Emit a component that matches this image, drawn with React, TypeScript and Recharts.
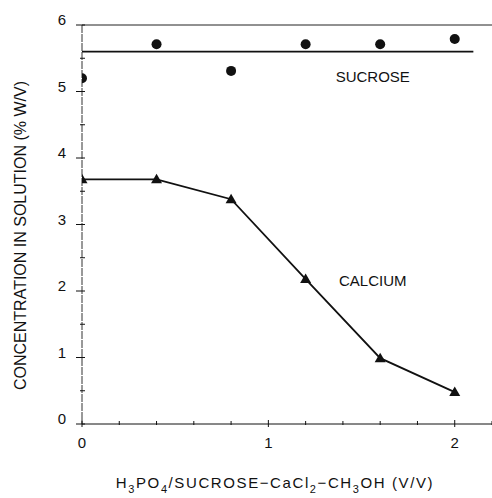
import React from 'react';
import {
  ComposedChart,
  Line,
  Scatter,
  XAxis,
  YAxis,
  ReferenceLine,
  ReferenceDot,
} from 'recharts';

const ratioValues = [0, 0.4, 0.8, 1.2, 1.6, 2.0];
const sucroseValues = [5.2, 5.71, 5.31, 5.71, 5.71, 5.79];
const calciumValues = [3.68, 3.68, 3.38, 2.18, 0.99, 0.48];
const sucroseMean = 5.6;
const sucroseLineEnd = 2.1;
const xTicks = [0, 0.2, 0.4, 0.6, 0.8, 1, 1.2, 1.4, 1.6, 1.8, 2, 2.2];
const yTicks = [0, 0.5, 1, 1.5, 2, 2.5, 3, 3.5, 4, 4.5, 5, 5.5, 6];
const xMajor = [0, 1, 2];
const yMajor = [0, 1, 2, 3, 4, 5, 6];

const sucroseData = ratioValues.map((x, i) => ({ x, y: sucroseValues[i] }));
const calciumData = ratioValues.map((x, i) => ({ x, y: calciumValues[i] }));

const FONT = '"Liberation Sans", Arial, sans-serif';
const INK = '#111';

const isMajor = (v: number, list: number[]) => list.some((m) => Math.abs(m - v) < 1e-6);

const XTick = (props: any) => {
  const { x, y, payload } = props;
  const major = isMajor(payload.value, xMajor);
  return (
    <g>
      <line x1={x} x2={x} y1={y - (major ? 4 : 3)} y2={y + (major ? 3 : 1)} stroke={INK} strokeWidth={1} />
      {major && (
        <text x={x} y={y + 24} textAnchor="middle" fontSize={15} fontFamily={FONT} fill={INK}>
          {payload.value}
        </text>
      )}
    </g>
  );
};

const YTick = (props: any) => {
  const { x, y, payload } = props;
  const major = isMajor(payload.value, yMajor);
  return (
    <g>
      <line x1={x - (major ? 6 : 2)} x2={x + 3} y1={y} y2={y} stroke={INK} strokeWidth={1} />
      {major && (
        <text x={x - 20} y={y} textAnchor="middle" fontSize={15} fontFamily={FONT} fill={INK}>
          {payload.value}
        </text>
      )}
    </g>
  );
};

const Triangle = (props: any) => {
  const { cx, cy } = props;
  if (cx == null || cy == null) return null;
  return <path d={`M${cx},${cy - 5.5} L${cx + 5.5},${cy + 4} L${cx - 5.5},${cy + 4} Z`} fill={INK} />;
};

const Circle = (props: any) => {
  const { cx, cy } = props;
  return <circle cx={cx} cy={cy} r={5} fill={INK} />;
};

const XLabel = (props: any) => {
  const vb = props.viewBox || {};
  const cx = (vb.x ?? 82) + 193;
  const by = (vb.y ?? 424) + 64;
  return (
    <text x={cx} y={by} textAnchor="middle" fontSize={15} fontFamily={FONT} fill={INK} letterSpacing={1.6}>
      H<tspan fontSize={11} dy={5}>3</tspan>
      <tspan dy={-5}>PO</tspan>
      <tspan fontSize={11} dy={5}>4</tspan>
      <tspan dy={-5}>/SUCROSE−CaCl</tspan>
      <tspan fontSize={11} dy={5}>2</tspan>
      <tspan dy={-5}>−CH</tspan>
      <tspan fontSize={11} dy={5}>3</tspan>
      <tspan dy={-5}>OH (V/V)</tspan>
    </text>
  );
};

const YLabel = (props: any) => {
  const vb = props.viewBox || {};
  const cx = 26;
  const cy = (vb.y ?? 25) + (vb.height ?? 399) / 2 + 11;
  return (
    <text
      x={cx}
      y={cy}
      transform={`rotate(-90 ${cx} ${cy})`}
      textAnchor="middle"
      fontSize={16}
      fontFamily={FONT}
      fill={INK}
    >
      CONCENTRATION IN SOLUTION (% W/V)
    </text>
  );
};

export default function App() {
  return (
    <div style={{ position: 'absolute', left: 0, top: 0, background: '#fff' }}>
      <ComposedChart
        width={492}
        height={498}
        margin={{ top: 25, right: 0, bottom: 0, left: 0 }}
      >
        <XAxis
          type="number"
          dataKey="x"
          domain={[0, 2.2]}
          ticks={xTicks}
          interval={0}
          tickSize={0}
          tickMargin={0}
          tickLine={false}
          tick={<XTick />}
          height={74}
          axisLine={{ stroke: INK, strokeWidth: 1 }}
          allowDataOverflow
          label={<XLabel />}
        />
        <YAxis
          type="number"
          dataKey="y"
          domain={[0, 6]}
          ticks={yTicks}
          interval={0}
          tickSize={0}
          tickMargin={0}
          tickLine={false}
          tick={<YTick />}
          width={82}
          axisLine={{ stroke: '#333', strokeWidth: 1, strokeDasharray: '8 1' }}
          allowDataOverflow
          label={<YLabel />}
        />
        <ReferenceLine y={6} stroke="#222" strokeWidth={1} />
        <ReferenceLine
          segment={[
            { x: 0, y: sucroseMean },
            { x: sucroseLineEnd, y: sucroseMean },
          ]}
          stroke={INK}
          strokeWidth={1.8}
          ifOverflow="visible"
        />
        <Line
          data={calciumData}
          dataKey="y"
          type="linear"
          stroke={INK}
          strokeWidth={1.8}
          dot={<Triangle />}
          isAnimationActive={false}
        />
        <Scatter data={sucroseData} dataKey="y" shape={<Circle />} isAnimationActive={false} />
        <ReferenceDot
          x={1.56}
          y={5.22}
          r={0}
          fill="none"
          stroke="none"
          label={{ value: 'SUCROSE', position: 'center', fontSize: 15, fontFamily: FONT, fill: INK }}
        />
        <ReferenceDot
          x={1.56}
          y={2.15}
          r={0}
          fill="none"
          stroke="none"
          label={{ value: 'CALCIUM', position: 'center', fontSize: 15, fontFamily: FONT, fill: INK }}
        />
      </ComposedChart>
    </div>
  );
}
